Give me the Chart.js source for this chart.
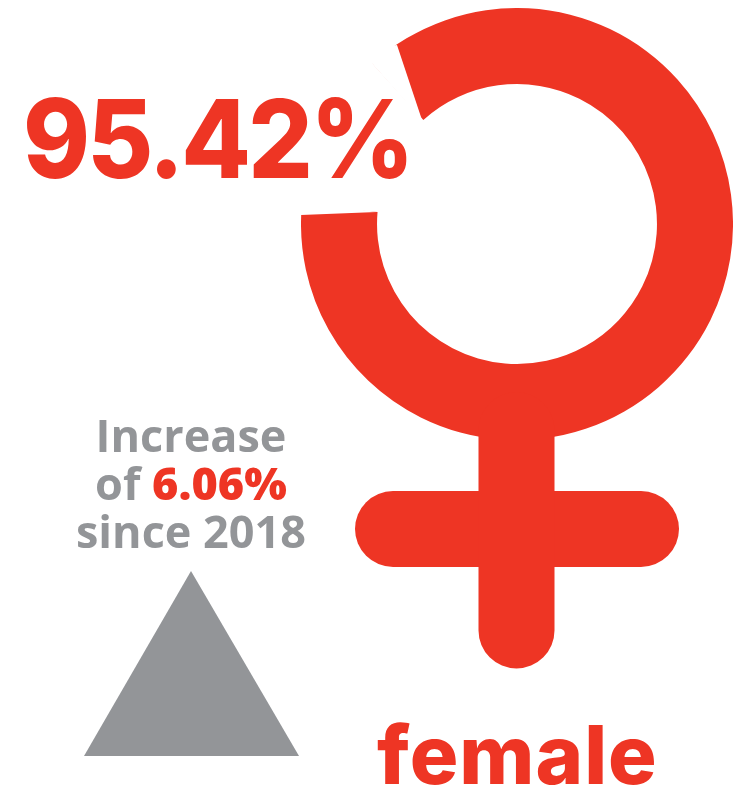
<!DOCTYPE html>
<html>
<head>
<meta charset="utf-8">
<script src="https://cdn.jsdelivr.net/npm/chart.js@4"></script>
<style>
body { margin: 0; background: #fff; }
#wrap { position: relative; width: 739px; height: 789px; overflow: hidden; }
canvas { position: absolute; }
#ring { left: 301px; top: 8px; }
#glyph { left: 0; top: 0; }
.t { position: absolute; white-space: nowrap; }
#pct { left: 23px; top: 72px; font: 800 109px Inter; letter-spacing: -3px; color: #ee3524; transform: scaleX(0.93); transform-origin: left top; }
#sex { left: 377px; top: 706px; font: 800 81px Inter; letter-spacing: 1px; color: #ee3524; }
#note { left: 41px; top: 411px; width: 300px; text-align: center; font: 700 45px/48px "Open Sans"; color: #939598; }
#note b { color: #ee3524; }
</style>
</head>
<body>
<div id="wrap">
  <canvas id="ring" width="432" height="432"></canvas>
  <canvas id="glyph" width="739" height="789"></canvas>
  <div class="t" id="pct">95.42%</div>
  <div class="t" id="sex">female</div>
  <div class="t" id="note">Increase<br>of <b>6.06%</b><br>since 2018</div>
</div>
<script>
const red = '#ee3524';
const gray = '#939598';

// share of the circle covered by the ring, and the open gap
const ringShare = [88.03, 11.97];

// glyph parts, in picture units
const stem = [{x: 516.5, y: 430}, {x: 516.5, y: 630.5}];
const crossbar = [{x: 393, y: 529}, {x: 641, y: 529}];
const triangle = [{x: 84, y: 756}, {x: 191, y: 571}, {x: 299, y: 756}, {x: 84, y: 756}];
// the ring's two cut ends are not radial, these trim them
const cutTop = [{x: 422, y: 120}, {x: 397, y: 45}, {x: 360, y: 50}, {x: 422, y: 120}];
const cutLeft = [{x: 377, y: 212}, {x: 301, y: 215}, {x: 290, y: 200}, {x: 377, y: 212}];

new Chart(document.getElementById('ring'), {
    type: 'doughnut',
    data: {
        labels: ['ring', 'gap'],
        datasets: [{
            data: ringShare,
            backgroundColor: [red, 'rgba(0,0,0,0)'],
            borderWidth: 0
        }]
    },
    options: {
        responsive: false,
        animation: false,
        rotation: -42,
        cutout: '64.8%',
        plugins: { legend: { display: false }, tooltip: { enabled: false } }
    }
});

function bar(points) {
    return {
        data: points,
        showLine: true,
        borderColor: red,
        borderWidth: 76,
        borderCapStyle: 'round',
        pointRadius: 0,
        clip: false
    };
}

function shape(points, color) {
    return {
        data: points,
        showLine: true,
        fill: 'shape',
        backgroundColor: color,
        borderWidth: 0,
        pointRadius: 0
    };
}

new Chart(document.getElementById('glyph'), {
    type: 'scatter',
    data: {
        datasets: [
            shape(cutTop, '#fff'),
            shape(cutLeft, '#fff'),
            bar(stem),
            bar(crossbar),
            shape(triangle, gray)
        ]
    },
    options: {
        responsive: false,
        animation: false,
        layout: { padding: 0 },
        scales: {
            x: { type: 'linear', display: false, min: 0, max: 739 },
            y: { type: 'linear', display: false, min: 0, max: 789, reverse: true }
        },
        plugins: { legend: { display: false }, tooltip: { enabled: false } }
    }
});
</script>
</body>
</html>
